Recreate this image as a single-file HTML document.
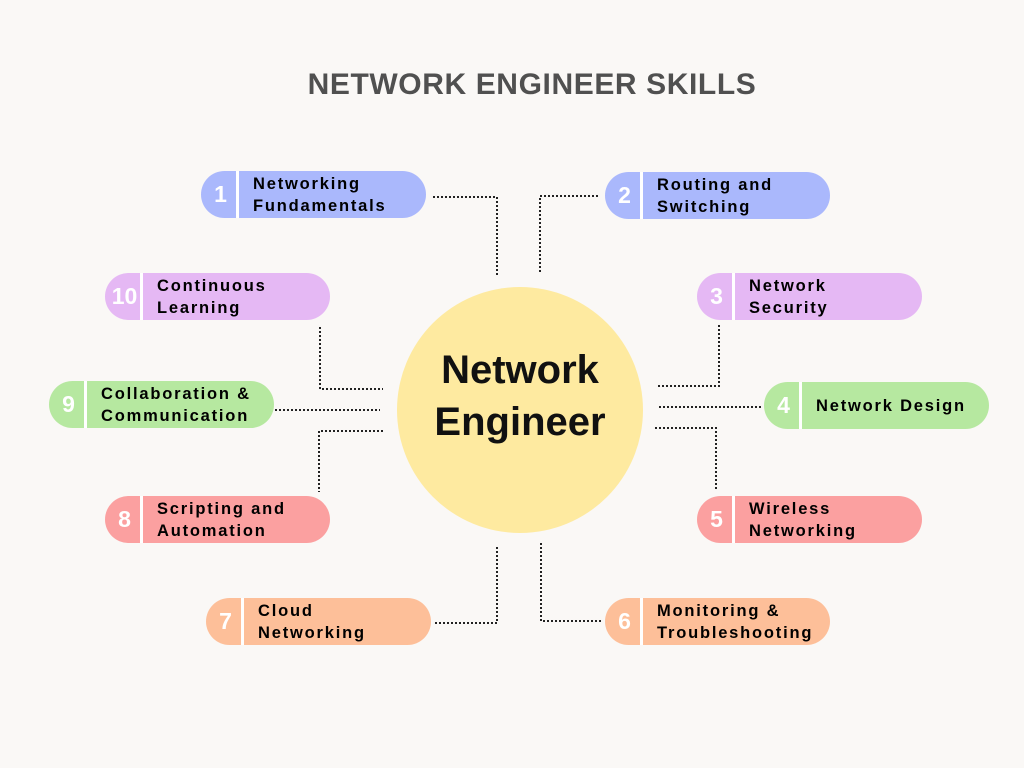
<!DOCTYPE html>
<html><head><style>
body{margin:0;width:1024px;height:768px;background:#faf8f6;position:relative;overflow:hidden;font-family:"Liberation Sans",sans-serif}
.t{position:absolute;left:0;width:1064px;top:68px;text-align:center;font-size:30px;font-weight:bold;color:#505050;letter-spacing:0.6px}
.c{position:absolute;left:397px;top:287px;width:246px;height:246px;border-radius:50%;background:#feeaa0}
.ct{position:absolute;left:397px;top:344px;width:246px;text-align:center;font-size:40px;font-weight:bold;line-height:52px;color:#111}
.p{position:absolute;width:225px;height:47px;border-radius:24px}
.p .n{position:absolute;left:0;top:0;width:38px;height:47px;border-right:3px solid #fff;color:#fff;font-weight:bold;font-size:23px;line-height:47px;text-align:center;box-sizing:border-box;padding-left:4px}
.p .l{position:absolute;left:52px;top:0;height:47px;display:flex;align-items:center;font-weight:bold;font-size:16.5px;letter-spacing:1.8px;line-height:22px;color:#000;white-space:nowrap}
.b{background:#aab8fc}.pu{background:#e5b8f4}.g{background:#b6e8a0}.r{background:#fba0a0}.o{background:#fdbf99}
</style></head><body>
<div class="t">NETWORK ENGINEER SKILLS</div>
<svg width="1024" height="768" style="position:absolute;left:0;top:0">
<g fill="none" stroke="#222" stroke-width="2" stroke-dasharray="2 2">
<polyline points="433,197 497,197 497,275"/>
<polyline points="540,272 540,196 600,196"/>
<polyline points="320,327 320,389 383,389"/>
<polyline points="719,325 719,386 657,386"/>
<polyline points="275,410 380,410"/>
<polyline points="659,407 763,407"/>
<polyline points="383,431 319,431 319,492"/>
<polyline points="655,428 716,428 716,490"/>
<polyline points="497,547 497,623 433,623"/>
<polyline points="541,543 541,621 603,621"/>
</g></svg>
<div class="c"></div>
<div class="ct">Network<br>Engineer</div>
<div class="p b" style="left:201px;top:171px"><div class="n">1</div><div class="l">Networking<br>Fundamentals</div></div>
<div class="p b" style="left:605px;top:172px"><div class="n">2</div><div class="l">Routing and<br>Switching</div></div>
<div class="p pu" style="left:105px;top:273px"><div class="n">10</div><div class="l">Continuous<br>Learning</div></div>
<div class="p pu" style="left:697px;top:273px"><div class="n">3</div><div class="l">Network<br>Security</div></div>
<div class="p g" style="left:49px;top:381px"><div class="n">9</div><div class="l">Collaboration &amp;<br>Communication</div></div>
<div class="p g" style="left:764px;top:382px"><div class="n">4</div><div class="l">Network Design</div></div>
<div class="p r" style="left:105px;top:496px"><div class="n">8</div><div class="l">Scripting and<br>Automation</div></div>
<div class="p r" style="left:697px;top:496px"><div class="n">5</div><div class="l">Wireless<br>Networking</div></div>
<div class="p o" style="left:206px;top:598px"><div class="n">7</div><div class="l">Cloud<br>Networking</div></div>
<div class="p o" style="left:605px;top:598px"><div class="n">6</div><div class="l">Monitoring &amp;<br>Troubleshooting</div></div>
</body></html>
